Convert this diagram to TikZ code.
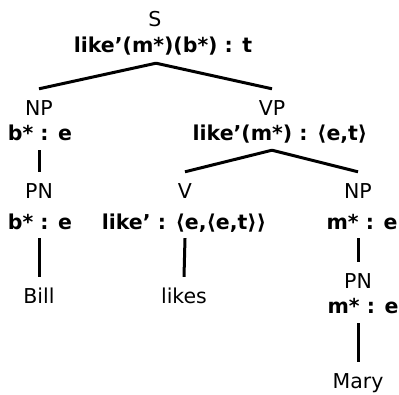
\documentclass[tikz,border=0pt]{standalone}
\usepackage{fontspec}
\setmainfont{DejaVu Sans}
\usetikzlibrary{calc}
\begin{document}
\begin{tikzpicture}[x=1pt,y=-1pt,
  every node/.style={font=\fontsize{20.5}{24}\selectfont, anchor=base, inner sep=0pt, text height=15pt, text depth=5pt},
  lbl/.style={font=\fontsize{20.5}{24}\selectfont\bfseries},
  branch/.style={line width=3pt}]
\useasboundingbox (0,0) rectangle (399,394);
% nodes
\node (s)    at (155,26)  {S};
\node[lbl] (sl)   at (163,52)  {like’(m*)(b*) : t};
\node (np)   at (39,115)  {NP};
\node[lbl] (npl)  at (40,140)  {b* : e};
\node (vp)   at (272,115) {VP};
\node[lbl] (vpl)  at (280,140) {like’(m*) : ⟨e,t⟩};
\node (pn)   at (39,198)  {PN};
\node[lbl] (pnl)  at (40,229)  {b* : e};
\node (v)    at (185,198) {V};
\node[lbl] (vl)   at (184,229) {like’ : ⟨e,⟨e,t⟩⟩};
\node (np2)  at (358,198) {NP};
\node[lbl] (np2l) at (362,229) {m* : e};
\node (bill) at (39,303)  {Bill};
\node (likes) at (184,303) {likes};
\node (pn2)  at (358,288) {PN};
\node[lbl] (pn2l) at (363,313) {m* : e};
\node (mary) at (358,388) {Mary};
% connectors
\draw[branch] ($(s |- sl.south)+(1,6)$) -- ($(np.north)+(0,-11)$);
\draw[branch] ($(s |- sl.south)+(1,6)$) -- ($(vp.north)+(0,-11)$);
\draw[branch] ($(np |- npl.south)+(0,5)$) -- ($(pn.north)+(0,-11)$);
\draw[branch] ($(pn |- pnl.south)+(0,4)$) -- ($(bill.north)+(0,-11)$);
\draw[branch] ($(vp |- vpl.south)+(0,5)$) -- ($(v.north)+(0,-11)$);
\draw[branch] ($(vp |- vpl.south)+(0,5)$) -- ($(np2.north)+(0,-11)$);
\draw[branch] ($(v |- vl.south)+(0,4)$) -- ($(likes.north)+(0,-11)$);
\draw[branch] ($(np2 |- np2l.south)+(0,4)$) -- ($(pn2.north)+(0,-11)$);
\draw[branch] ($(pn2 |- pn2l.south)+(0,5)$) -- ($(mary.north)+(0,-11)$);
\end{tikzpicture}
\end{document}
